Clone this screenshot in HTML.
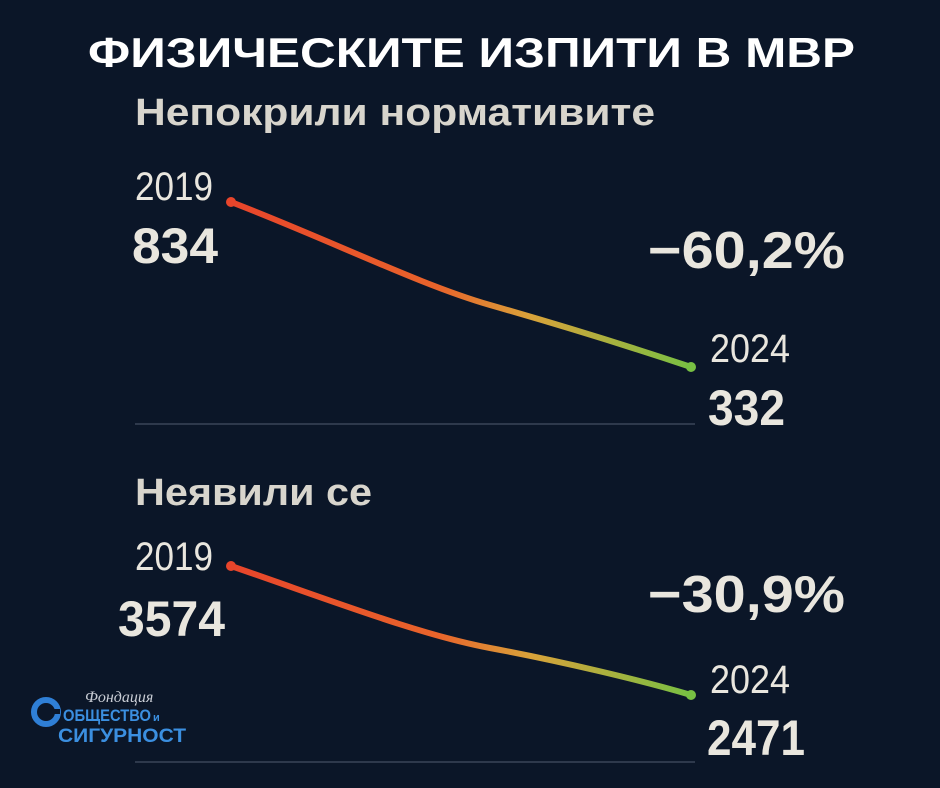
<!DOCTYPE html>
<html><head><meta charset="utf-8"><style>
html,body{margin:0;padding:0;background:#0b1628;}
svg{display:block}
text{font-family:"Liberation Sans Narrow","Liberation Sans",sans-serif;fill:#e9e6de}
</style></head><body>
<svg width="940" height="788" viewBox="0 0 940 788" xmlns="http://www.w3.org/2000/svg">
<defs>
<linearGradient id="g" x1="231" y1="0" x2="691" y2="0" gradientUnits="userSpaceOnUse">
<stop offset="0" stop-color="#e8452b"/><stop offset="0.45" stop-color="#e8642b"/>
<stop offset="0.65" stop-color="#d9a23a"/><stop offset="1" stop-color="#78c043"/>
</linearGradient>
</defs>
<rect width="940" height="788" fill="#0b1628"/>
<text x="88" y="67" font-size="42" font-weight="bold" textLength="767" lengthAdjust="spacingAndGlyphs" style="font-family:'Liberation Sans',sans-serif;fill:#fff">ФИЗИЧЕСКИТЕ ИЗПИТИ В МВР</text>
<text x="135" y="125" font-size="38" font-weight="bold" textLength="520" lengthAdjust="spacingAndGlyphs" style="font-family:'Liberation Sans',sans-serif;fill:#d8d5cd">Непокрили нормативите</text>

<path d="M231 202 C 330 240, 420 285, 490 305 S 640 350, 691 367" fill="none" stroke="url(#g)" stroke-width="6" stroke-linecap="round"/>
<circle cx="231" cy="202" r="5" fill="#e8452b"/><circle cx="691" cy="367" r="5" fill="#78c043"/>
<line x1="135" y1="424" x2="695" y2="424" stroke="#3a4558" stroke-width="1.5"/>
<text x="135" y="200" font-size="40" textLength="78" lengthAdjust="spacingAndGlyphs">2019</text>
<text x="132" y="263" font-size="50" font-weight="bold" textLength="86" lengthAdjust="spacingAndGlyphs">834</text>
<text x="648" y="268" font-size="52" font-weight="bold" textLength="197" lengthAdjust="spacingAndGlyphs">−60,2%</text>
<text x="710" y="362" font-size="40" textLength="80" lengthAdjust="spacingAndGlyphs">2024</text>
<text x="708" y="425" font-size="50" font-weight="bold" textLength="77" lengthAdjust="spacingAndGlyphs">332</text>

<text x="135" y="505" font-size="38" font-weight="bold" textLength="237" lengthAdjust="spacingAndGlyphs" style="font-family:'Liberation Sans',sans-serif;fill:#d8d5cd">Неявили се</text>
<path d="M231 566 C 330 600, 420 635, 490 648 S 640 680, 691 695" fill="none" stroke="url(#g)" stroke-width="6" stroke-linecap="round"/>
<circle cx="231" cy="566" r="5" fill="#e8452b"/><circle cx="691" cy="695" r="5" fill="#78c043"/>
<line x1="135" y1="762" x2="695" y2="762" stroke="#3a4558" stroke-width="1.5"/>
<text x="135" y="570" font-size="40" textLength="78" lengthAdjust="spacingAndGlyphs">2019</text>
<text x="118" y="636" font-size="50" font-weight="bold" textLength="107" lengthAdjust="spacingAndGlyphs">3574</text>
<text x="648" y="612" font-size="52" font-weight="bold" textLength="197" lengthAdjust="spacingAndGlyphs">−30,9%</text>
<text x="710" y="693" font-size="40" textLength="80" lengthAdjust="spacingAndGlyphs">2024</text>
<text x="707" y="755" font-size="50" font-weight="bold" textLength="98" lengthAdjust="spacingAndGlyphs">2471</text>

<!-- logo -->
<circle cx="46" cy="712" r="12" fill="none" stroke="#2f7fd6" stroke-width="6"/>
<rect x="44" y="709" width="16" height="5" fill="#0b1628"/>
<text x="85" y="702" font-size="16" font-style="italic" style="font-family:'Liberation Serif',serif;fill:#c8ccd4">Фондация</text>
<text x="63" y="721" font-size="17" font-weight="bold" textLength="88" lengthAdjust="spacingAndGlyphs" style="font-family:'Liberation Sans',sans-serif;fill:#3b8fe0">ОБЩЕСТВО</text>
<text x="153" y="721" font-size="11" font-weight="bold" style="font-family:'Liberation Sans',sans-serif;fill:#3b8fe0">и</text>
<text x="58" y="742" font-size="19" font-weight="bold" textLength="128" lengthAdjust="spacingAndGlyphs" style="font-family:'Liberation Sans',sans-serif;fill:#3b8fe0">СИГУРНОСТ</text>
</svg>
</body></html>
